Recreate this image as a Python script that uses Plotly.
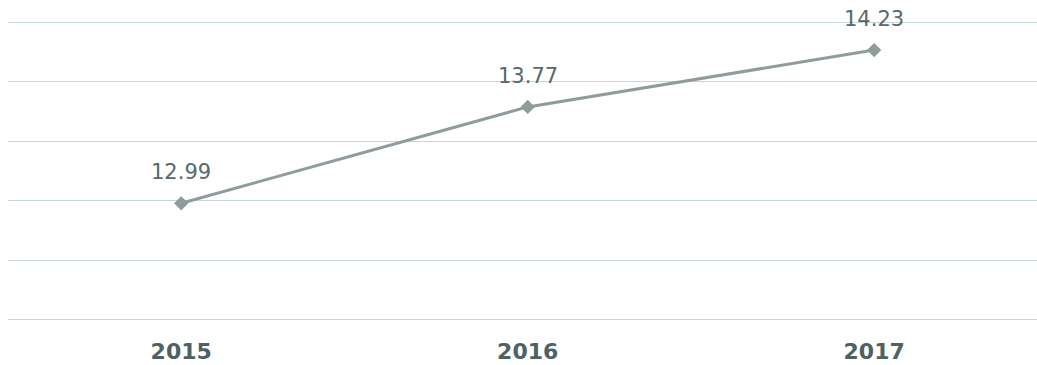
import plotly.graph_objects as go

years = ["2015", "2016", "2017"]
values = [12.99, 13.77, 14.23]
labels = ["12.99", "13.77", "14.23"]

fig = go.Figure()
fig.add_trace(go.Scatter(
    x=years, y=values, mode="lines+markers",
    line=dict(color="#8e9c9c", width=3),
    marker=dict(symbol="diamond", size=11, color="#8e9c9c"),
    hoverinfo="skip", showlegend=False,
))
for i, (y, t) in enumerate(zip(values, labels)):
    fig.add_annotation(x=i, y=y, xref="x", yref="y", text=t, showarrow=False, yshift=31,
                       font=dict(family="DejaVu Sans", size=21, color="#566a6a"))

fig.update_layout(
    width=1037, height=365,
    margin=dict(l=8, r=0, t=0, b=35),
    paper_bgcolor="white", plot_bgcolor="white",
    xaxis=dict(type="category", range=[-0.5, 2.47], showgrid=False, zeroline=False,
               showline=False, ticks="", ticklabelstandoff=6,
               tickfont=dict(family="DejaVu Sans", size=22, color="#4e6262", weight="bold")),
    yaxis=dict(range=[11.965, 14.635], showgrid=True, gridcolor="#c5d6dc", gridwidth=1,
               tick0=13.01, dtick=0.482, showticklabels=False, zeroline=False,
               showline=False, ticks=""),
)
fig.write_html("out.html")
